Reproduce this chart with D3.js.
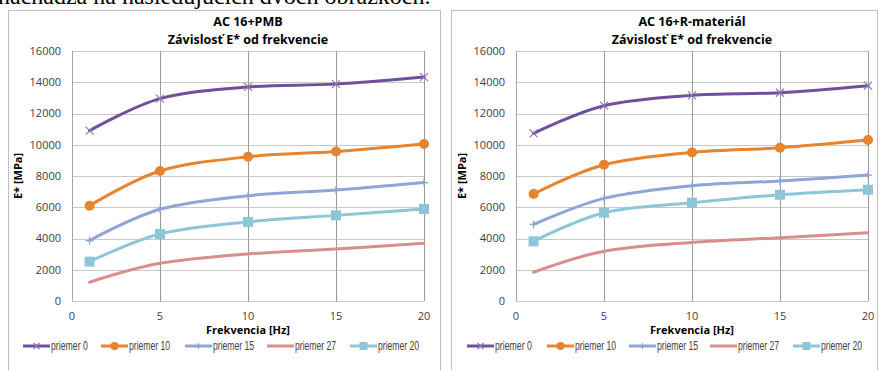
<!DOCTYPE html>
<html>
<head>
<meta charset="utf-8">
<script src="https://cdn.jsdelivr.net/npm/d3@7"></script>
<style>
  html, body { margin: 0; padding: 0; background: #fff; }
  svg { display: block; }
</style>
</head>
<body>
<div id="viz"></div>
<script>
// Data
const freq = [1, 5, 10, 15, 20];
const xTicks = [0, 5, 10, 15, 20];
const yTicks = [0, 2000, 4000, 6000, 8000, 10000, 12000, 14000, 16000];
const seriesNames = ['priemer 0', 'priemer 10', 'priemer 15', 'priemer 27', 'priemer 20'];

// AC 16+PMB
const pmbP0 = [10900, 12950, 13700, 13880, 14330];
const pmbP10 = [6100, 8320, 9230, 9570, 10050];
const pmbP15 = [3870, 5870, 6740, 7100, 7580];
const pmbP27 = [1200, 2410, 3010, 3330, 3690];
const pmbP20 = [2520, 4290, 5060, 5480, 5890];

// AC 16+R-materiál
const rmP0 = [10730, 12500, 13160, 13330, 13780];
const rmP10 = [6850, 8720, 9510, 9810, 10300];
const rmP15 = [4900, 6570, 7380, 7680, 8060];
const rmP27 = [1840, 3180, 3750, 4050, 4370];
const rmP20 = [3820, 5650, 6290, 6800, 7120];

const colors = ['#6E509C', '#E8832E', '#8EA5D6', '#D78E8C', '#8CC6D7'];
const markerColors = ['#8E78B8', '#E8832E', '#8EA5D6', '#D78E8C', '#8CC6D7'];
const markers = ['x', 'circle', 'plus', 'none', 'square'];

const width = 881, height = 370;
const svg = d3.select('#viz').append('svg')
  .attr('width', width)
  .attr('height', height)
  .attr('viewBox', [0, 0, width, height]);

// cut-off line of document text at the very top
svg.append('text')
  .attr('x', -2)
  .attr('y', 4)
  .attr('font-family', '"Liberation Serif", "Times New Roman", serif')
  .attr('font-size', '24px')
  .attr('fill', '#000')
  .text('nachádza na nasledujúcich dvoch obrázkoch.');

const labelFont = '"Open Sans", "Noto Sans", sans-serif';
const legendFont = '"Liberation Sans", Arial, sans-serif';

function drawMarker(g, type, x, y, color, s = 4) {
  if (type === 'circle') {
    g.append('circle').attr('cx', x).attr('cy', y).attr('r', s + 1).attr('fill', color);
  } else if (type === 'square') {
    g.append('rect').attr('x', x - s - 1).attr('y', y - s - 1)
      .attr('width', 2 * s + 2).attr('height', 2 * s + 2).attr('fill', color);
  } else if (type === 'x') {
    g.append('path')
      .attr('d', `M${x - s},${y - s}L${x + s},${y + s}M${x - s},${y + s}L${x + s},${y - s}`)
      .attr('stroke', color).attr('stroke-width', 1.2).attr('fill', 'none');
  } else if (type === 'plus') {
    g.append('path')
      .attr('d', `M${x - s},${y}L${x + s},${y}M${x},${y - s}L${x},${y + s}`)
      .attr('stroke', color).attr('stroke-width', 1.2).attr('fill', 'none');
  }
}

function drawChart(opts) {
  const g = svg.append('g');

  // chart frame
  g.append('rect')
    .attr('x', opts.frame[0] + 0.5)
    .attr('y', opts.frame[1] + 0.5)
    .attr('width', opts.frame[2])
    .attr('height', opts.frame[3])
    .attr('fill', 'none')
    .attr('stroke', '#BFBFBF')
    .attr('stroke-width', 1);

  const x = d3.scaleLinear().domain([0, 20]).range([opts.left, opts.right]);
  const y = d3.scaleLinear().domain([0, 16000]).range([301, 51]);

  // horizontal grid
  g.append('g')
    .selectAll('line')
    .data(yTicks)
    .join('line')
    .attr('x1', opts.left).attr('x2', opts.right)
    .attr('y1', d => Math.round(y(d)) + 0.5).attr('y2', d => Math.round(y(d)) + 0.5)
    .attr('stroke', '#C8C8C8').attr('stroke-width', 1);

  // vertical grid
  g.append('g')
    .selectAll('line')
    .data(xTicks)
    .join('line')
    .attr('x1', d => Math.round(x(d)) + 0.5).attr('x2', d => Math.round(x(d)) + 0.5)
    .attr('y1', y(16000)).attr('y2', y(0))
    .attr('stroke', d => d === 0 ? '#A6A6A6' : '#9A9A9A').attr('stroke-width', 1);

  // y tick labels
  g.append('g')
    .selectAll('text')
    .data(yTicks)
    .join('text')
    .attr('x', opts.left - 11)
    .attr('y', d => y(d))
    .attr('dy', '0.35em')
    .attr('text-anchor', 'end')
    .attr('font-family', labelFont)
    .attr('font-size', '11px')
    .attr('fill', '#404040')
    .text(d => d);

  // x tick labels
  g.append('g')
    .selectAll('text')
    .data(xTicks)
    .join('text')
    .attr('x', d => x(d))
    .attr('y', 320)
    .attr('text-anchor', 'middle')
    .attr('font-family', labelFont)
    .attr('font-size', '11px')
    .attr('fill', '#404040')
    .text(d => d);

  const cx = (opts.left + opts.right) / 2;

  // titles
  g.append('text')
    .attr('x', cx).attr('y', 26)
    .attr('text-anchor', 'middle')
    .attr('font-family', labelFont)
    .attr('font-size', '12.5px')
    .attr('font-weight', 'bold')
    .attr('fill', '#000')
    .text(opts.title);
  g.append('text')
    .attr('x', cx).attr('y', 44)
    .attr('text-anchor', 'middle')
    .attr('font-family', labelFont)
    .attr('font-size', '12.5px')
    .attr('font-weight', 'bold')
    .attr('fill', '#000')
    .text('Závislosť E* od frekvencie');

  // axis titles
  g.append('text')
    .attr('x', cx).attr('y', 334)
    .attr('text-anchor', 'middle')
    .attr('font-family', labelFont)
    .attr('font-size', '11px')
    .attr('font-weight', 'bold')
    .attr('fill', '#000')
    .text('Frekvencia [Hz]');
  g.append('text')
    .attr('transform', `translate(${opts.left - 54},176) rotate(-90)`)
    .attr('text-anchor', 'middle')
    .attr('dy', '0.35em')
    .attr('font-family', labelFont)
    .attr('font-size', '11px')
    .attr('font-weight', 'bold')
    .attr('fill', '#000')
    .text('E* [MPa]');

  const line = d3.line()
    .x((d, i) => x(freq[i]))
    .y(d => y(d))
    .curve(d3.curveCardinal.tension(0));

  opts.series.forEach((vals, si) => {
    g.append('path')
      .attr('d', line(vals))
      .attr('fill', 'none')
      .attr('stroke', colors[si])
      .attr('stroke-width', 3)
      .attr('stroke-linecap', 'round');
    const mg = g.append('g');
    vals.forEach((v, i) => drawMarker(mg, markers[si], x(freq[i]), y(v), markerColors[si]));
  });

  // legend (condensed text, like the original narrow font)
  const lg = g.append('g');
  opts.legendX.forEach((lx, si) => {
    const ly = 346;
    lg.append('line')
      .attr('x1', lx).attr('x2', lx + 27)
      .attr('y1', ly).attr('y2', ly)
      .attr('stroke', colors[si]).attr('stroke-width', 3);
    drawMarker(lg, markers[si], lx + 13.5, ly, markerColors[si], 3);
    lg.append('text')
      .attr('x', lx + 28).attr('y', ly)
      .attr('dy', '0.35em')
      .attr('font-family', legendFont)
      .attr('font-size', '12.5px')
      .attr('fill', '#404040')
      .attr('textLength', seriesNames[si].length * 4.1)
      .attr('lengthAdjust', 'spacingAndGlyphs')
      .text(seriesNames[si]);
  });
}

drawChart({
  title: 'AC 16+PMB',
  frame: [8, 10, 432, 380],
  left: 72, right: 424,
  series: [pmbP0, pmbP10, pmbP15, pmbP27, pmbP20],
  legendX: [23, 101, 185, 267, 350]
});

drawChart({
  title: 'AC 16+R-materiál',
  frame: [451, 10, 426, 380],
  left: 516, right: 868,
  series: [rmP0, rmP10, rmP15, rmP27, rmP20],
  legendX: [467, 547, 629, 710, 793]
});
</script>
</body>
</html>
